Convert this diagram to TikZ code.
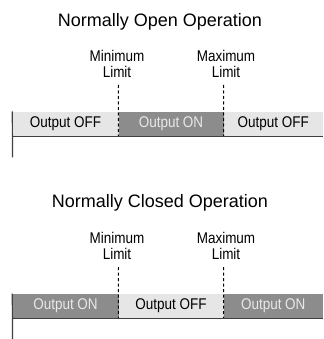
\documentclass[tikz,border=0pt]{standalone}
\usepackage{fontspec}
\setmainfont{Liberation Sans}
\newfontfamily\narrowfont{Liberation Sans}[FakeStretch=0.87]
\definecolor{offfill}{HTML}{E6E6E6}
\definecolor{onfill}{HTML}{8C8C8C}
\definecolor{ontext}{HTML}{E8E8E8}
\definecolor{barline}{HTML}{404040}
\begin{document}
\begin{tikzpicture}[x=1pt,y=-1pt,
  title/.style={font=\fontsize{18}{20}\selectfont,inner sep=0},
  limit/.style={font=\narrowfont\fontsize{15.5}{16}\selectfont,align=center,inner sep=0},
  cell/.style={font=\narrowfont\fontsize{15.5}{16}\selectfont,inner sep=0,minimum height=24.3},
  offcell/.style={cell,fill=offfill,text=black},
  oncell/.style={cell,fill=onfill,text=ontext},
  limitline/.style={draw=black,line width=1pt,dash pattern=on 3pt off 2.5pt},
  axisline/.style={draw=barline,line width=1.2pt}]
\useasboundingbox (0,0) rectangle (323,339);

% normally open
\node[title,anchor=base] (titleNO) at (160,26.7) {Normally Open Operation};
\node[offcell,minimum width=106] (offA) at (65.5,123.85) {Output OFF};
\node[oncell,minimum width=105] (onA) at (171,123.85) {Output ON};
\node[offcell,minimum width=99.5] (offB) at (273.25,123.85) {Output OFF};
\node[limit] (minA) at (117,64) {Minimum\\Limit};
\node[limit] (maxA) at (226,64) {Maximum\\Limit};
\coordinate (minAtop) at (118.5,85);
\coordinate (maxAtop) at (223.5,85);
\coordinate (axisA) at (12.5,157.3);
\draw[limitline] (minAtop) -- (onA.south west);
\draw[limitline] (maxAtop) -- (onA.south east);
\draw[axisline] (offA.south west) -- (offB.south east);
\draw[axisline] (offA.north west) -- (axisA);

% normally closed
\node[title,anchor=base] (titleNC) at (160,207.3) {Normally Closed Operation};
\node[oncell,minimum width=106] (onC) at (65.5,305.85) {Output ON};
\node[offcell,minimum width=105] (offC) at (171,305.85) {Output OFF};
\node[oncell,minimum width=99.5] (onD) at (273.25,305.85) {Output ON};
\node[limit] (minC) at (117,246) {Minimum\\Limit};
\node[limit] (maxC) at (226,246) {Maximum\\Limit};
\coordinate (minCtop) at (118.5,267);
\coordinate (maxCtop) at (223.5,267);
\coordinate (axisC) at (12.5,339);
\draw[limitline] (minCtop) -- (offC.south west);
\draw[limitline] (maxCtop) -- (offC.south east);
\draw[axisline] (onC.south west) -- (onD.south east);
\draw[axisline] (onC.north west) -- (axisC);
\end{tikzpicture}
\end{document}
